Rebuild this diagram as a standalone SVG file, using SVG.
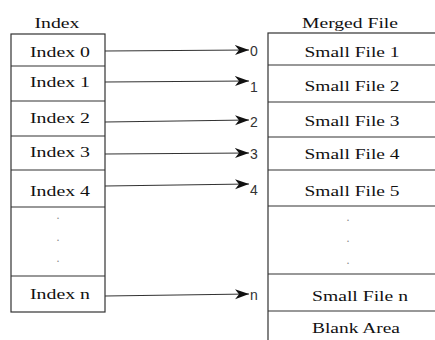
<svg xmlns="http://www.w3.org/2000/svg" width="435" height="340" viewBox="0 0 435 340">
<style>
  .box { fill: #ffffff; stroke: #333333; stroke-width: 1.2; }
  .div { stroke: #333333; stroke-width: 1.2; fill: none; }
  .lbl { font-family: "Liberation Serif", "Times New Roman", serif; font-size: 15px; fill: #111111; text-anchor: middle; }
  .dot { font-family: "Liberation Serif", "Times New Roman", serif; font-size: 12px; fill: #888888; text-anchor: middle; }
  .num { font-family: "Liberation Sans", Arial, sans-serif; font-size: 14px; fill: #333333; }
  .arr { stroke: #333333; stroke-width: 1.2; fill: none; marker-end: url(#ah); }
</style>
<defs>
  <marker id="ah" markerUnits="userSpaceOnUse" markerWidth="16" markerHeight="12" refX="14" refY="5" orient="auto">
    <path d="M0,0 L14,5 L0,10 L4,5 Z" fill="#111111"/>
  </marker>
</defs>
<rect width="435" height="340" fill="#ffffff"/>

<g id="index-table">
  <text class="lbl" x="57" y="28" textLength="45" lengthAdjust="spacingAndGlyphs">Index</text>
  <rect class="box" x="11" y="34" width="94" height="278"/>
  <path class="div" d="M11,66 H105 M11,101 H105 M11,136 H105 M11,170 H105 M11,207 H105 M11,276 H105"/>
  <g id="index-0"><text class="lbl" x="60" y="57" textLength="60" lengthAdjust="spacingAndGlyphs">Index 0</text></g>
  <g id="index-1"><text class="lbl" x="60" y="87" textLength="60" lengthAdjust="spacingAndGlyphs">Index 1</text></g>
  <g id="index-2"><text class="lbl" x="60" y="123" textLength="60" lengthAdjust="spacingAndGlyphs">Index 2</text></g>
  <g id="index-3"><text class="lbl" x="60" y="157" textLength="60" lengthAdjust="spacingAndGlyphs">Index 3</text></g>
  <g id="index-4"><text class="lbl" x="60" y="196" textLength="60" lengthAdjust="spacingAndGlyphs">Index 4</text></g>
  <g id="index-dots">
    <text class="dot" x="58" y="219">.</text>
    <text class="dot" x="58" y="241">.</text>
    <text class="dot" x="58" y="262">.</text>
  </g>
  <g id="index-n"><text class="lbl" x="60" y="299" textLength="60" lengthAdjust="spacingAndGlyphs">Index n</text></g>
</g>

<g id="merged-file">
  <text class="lbl" x="350" y="28" textLength="96" lengthAdjust="spacingAndGlyphs">Merged File</text>
  <rect class="box" x="268" y="33" width="172" height="315"/>
  <path class="div" d="M268,65 H435 M268,102 H435 M268,137 H435 M268,170 H435 M268,206 H435 M268,274 H435 M268,311 H435"/>
  <g id="file-1"><text class="lbl" x="352" y="57" textLength="95" lengthAdjust="spacingAndGlyphs">Small File 1</text></g>
  <g id="file-2"><text class="lbl" x="352" y="91" textLength="95" lengthAdjust="spacingAndGlyphs">Small File 2</text></g>
  <g id="file-3"><text class="lbl" x="352" y="126" textLength="95" lengthAdjust="spacingAndGlyphs">Small File 3</text></g>
  <g id="file-4"><text class="lbl" x="352" y="159" textLength="95" lengthAdjust="spacingAndGlyphs">Small File 4</text></g>
  <g id="file-5"><text class="lbl" x="352" y="196" textLength="95" lengthAdjust="spacingAndGlyphs">Small File 5</text></g>
  <g id="file-dots">
    <text class="dot" x="348" y="221">.</text>
    <text class="dot" x="348" y="242">.</text>
    <text class="dot" x="348" y="264">.</text>
  </g>
  <g id="file-n"><text class="lbl" x="360" y="301" textLength="96" lengthAdjust="spacingAndGlyphs">Small File n</text></g>
  <g id="blank-area"><text class="lbl" x="356" y="333" textLength="88" lengthAdjust="spacingAndGlyphs">Blank Area</text></g>
</g>

<g id="connectors">
  <line class="arr" x1="105" y1="51" x2="249" y2="50"/>
  <line class="arr" x1="105" y1="82" x2="249" y2="81"/>
  <line class="arr" x1="105" y1="122" x2="249" y2="120"/>
  <line class="arr" x1="105" y1="154" x2="249" y2="153"/>
  <line class="arr" x1="105" y1="186" x2="249" y2="184"/>
  <line class="arr" x1="105" y1="296" x2="249" y2="294"/>
  <text class="num" x="250" y="56">0</text>
  <text class="num" x="250" y="92">1</text>
  <text class="num" x="250" y="127">2</text>
  <text class="num" x="250" y="159">3</text>
  <text class="num" x="250" y="195">4</text>
  <text class="num" x="250" y="300">n</text>
</g>
</svg>
